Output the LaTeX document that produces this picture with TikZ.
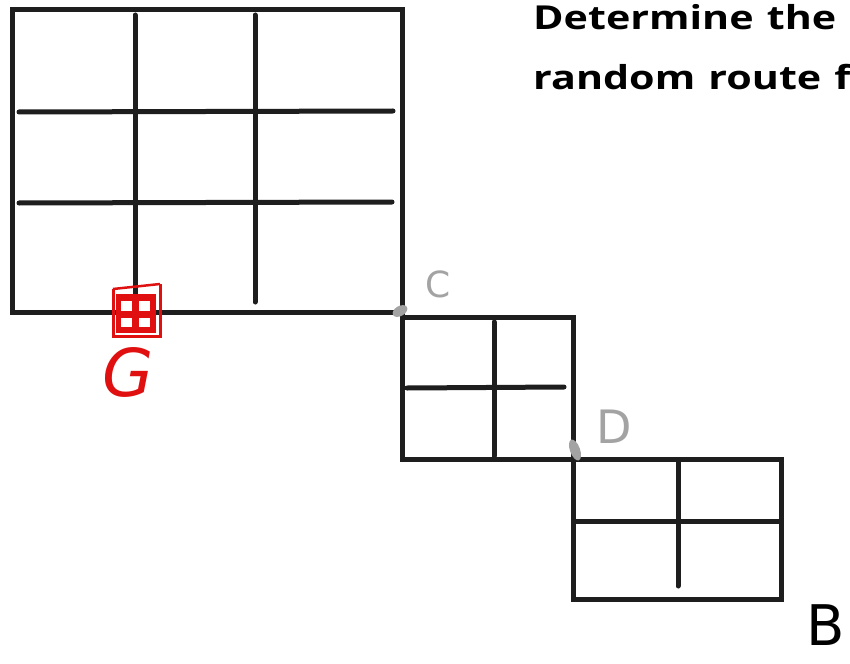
\documentclass[tikz,border=0pt]{standalone}
\usepackage{fontspec}
\newfontfamily\titlefont[FakeStretch=1.25]{Open Sans}
\newfontfamily\handfont{DejaVu Sans}
\definecolor{ink}{HTML}{1E1E1E}
\definecolor{pen}{HTML}{E01010}
\definecolor{markgray}{HTML}{A3A3A3}
\begin{document}
\begin{tikzpicture}[x=1pt,y=-1pt,
  frame/.style={draw=ink,line width=5pt},
  gridline/.style={draw=ink,line width=5pt,line cap=round},
  title/.style={anchor=base west,inner sep=0pt,text=black,font=\titlefont\bfseries\fontsize{33}{33}\selectfont},
  hand/.style={inner sep=0pt,font=\handfont\fontsize{#1}{#1}\selectfont},
  handit/.style={inner sep=0pt,font=\handfont\itshape\fontsize{#1}{#1}\selectfont},
  blob/.style={fill=markgray}]
\useasboundingbox (0,0) rectangle (850,663);
\fill[white] (0,0) rectangle (850,663);
% big grid
\draw[frame] (12,10) rectangle (402,312);
\draw[gridline] (135,15) -- (135,310);
\draw[gridline] (255,15) -- (255,302);
\draw[gridline] (19,112) -- (393,111);
\draw[gridline] (19,203) -- (392,202);
% medium grid
\draw[frame] (402,317) rectangle (573,459);
\draw[gridline] (494,322) -- (494,456);
\draw[gridline] (407,388) -- (564,387);
% small grid
\draw[frame] (573,459) rectangle (781,599);
\draw[gridline] (678,462) -- (678,586);
\draw[gridline] (575,521) -- (779,521);
% red mark
\draw[pen,line width=3pt] (113,289) -- (113,336) -- (160,336) -- (160,284);
\draw[pen,line width=2.5pt] (113,289) -- (160,284);
\fill[pen] (116,294) rectangle (156,333);
\fill[white] (121,301) rectangle (132,311);
\fill[white] (139,301) rectangle (150,311);
\fill[white] (121,318) rectangle (132,327);
\fill[white] (139,318) rectangle (150,327);
% gray points
\fill[blob,rotate around={30:(400,311)}] (400,311) ellipse (8 and 5);
\fill[blob,rotate around={20:(575,450)}] (575,450) ellipse (5 and 11);
% labels
\node[handit=66,text=pen] (labG) at (128,372) {G};
\node[hand=36,text=markgray] (labC) at (438,284) {C};
\node[hand=46,text=markgray] (labD) at (614,427) {D};
\node[hand=56,text=black,anchor=base east] (labB) at (845,645) {B};
\node[title] (title1) at (533,30) {Determine\hspace{0.4em}the};
\node[title] (title2) at (533,90) {random\hspace{0.4em}route\hspace{0.4em}f};
\end{tikzpicture}
\end{document}
